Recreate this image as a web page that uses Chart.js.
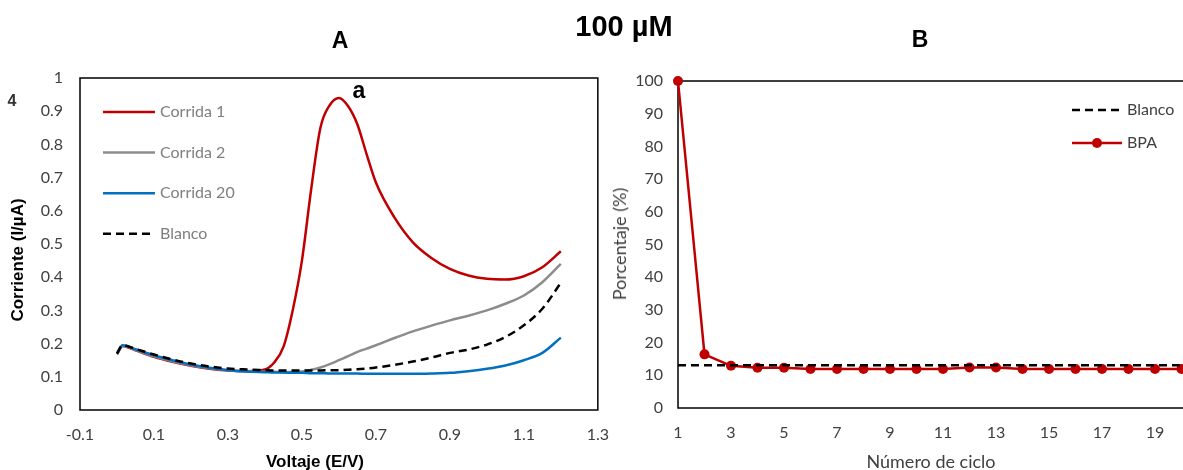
<!DOCTYPE html>
<html>
<head>
<meta charset="utf-8">
<script src="https://cdn.jsdelivr.net/npm/chart.js@4.4.1/dist/chart.umd.min.js"></script>
<style>
  body { margin: 0; width: 1183px; height: 470px; overflow: hidden; background: #fff; position: relative; }
  canvas { position: absolute; top: 0; }
  #chartA { left: 0; }
  #chartB { left: 600px; }
  .txt { position: absolute; white-space: nowrap; transform: translate(-50%, -50%); }
  .arial { font-family: "Liberation Sans", Arial, sans-serif; font-weight: bold; color: #000; }
  .lato { font-family: Lato, sans-serif; font-size: 18px; color: #404040; }
  .rot { transform: translate(-50%, -50%) rotate(-90deg); }
</style>
</head>
<body>
<canvas id="chartA" width="624" height="470"></canvas>
<canvas id="chartB" width="640" height="470"></canvas>

<div class="txt arial" style="left:624px; top:26px; font-size:29px;">100 µM</div>
<div class="txt arial" style="left:340px; top:40px; font-size:23px;">A</div>
<div class="txt arial" style="left:920px; top:39px; font-size:23px;">B</div>
<div class="txt arial" style="left:359px; top:90px; font-size:23px;">a</div>
<div class="txt arial" style="left:12px; top:101px; font-size:16px; color:#333;">4</div>
<div class="txt arial rot" style="left:18px; top:260px; font-size:17px;">Corriente (I/µA)</div>
<div class="txt arial" style="left:315px; top:462px; font-size:17px;">Voltaje (E/V)</div>
<div class="txt lato rot" style="left:619px; top:244px;">Porcentaje (%)</div>
<div class="txt lato" style="left:931px; top:461px;">Número de ciclo</div>

<script>
// ---- panel A : voltammograms ----
const voltaje = [0, 0.015, 0.05, 0.1, 0.15, 0.2, 0.25, 0.3, 0.35, 0.4, 0.425, 0.45, 0.475, 0.5, 0.525, 0.55,
  0.575, 0.6, 0.625, 0.65, 0.675, 0.7, 0.75, 0.8, 0.85, 0.9, 0.95, 1.0, 1.05, 1.1, 1.15, 1.2];
const corrida1 = [0.168, 0.193, 0.180, 0.160, 0.145, 0.133, 0.124, 0.119, 0.117, 0.122, 0.143, 0.190, 0.300, 0.450,
  0.665, 0.850, 0.918, 0.940, 0.915, 0.860, 0.770, 0.685, 0.580, 0.505, 0.458, 0.425, 0.405, 0.395, 0.393, 0.403, 0.430, 0.478];
const corrida2 = [0.168, 0.193, 0.181, 0.162, 0.147, 0.135, 0.126, 0.120, 0.117, 0.115, 0.115, 0.114, 0.115, 0.116,
  0.121, 0.128, 0.138, 0.150, 0.162, 0.175, 0.185, 0.195, 0.217, 0.237, 0.254, 0.270, 0.284, 0.300, 0.320, 0.345, 0.385, 0.440];
const corrida20 = [0.170, 0.195, 0.183, 0.165, 0.150, 0.137, 0.127, 0.120, 0.116, 0.114, 0.113, 0.113, 0.112, 0.112,
  0.111, 0.111, 0.110, 0.110, 0.110, 0.110, 0.109, 0.109, 0.109, 0.109, 0.110, 0.112, 0.117, 0.124, 0.134, 0.150, 0.172, 0.218];
const blancoA = [0.170, 0.195, 0.184, 0.167, 0.152, 0.140, 0.131, 0.125, 0.122, 0.120, 0.119, 0.119, 0.119, 0.119,
  0.119, 0.119, 0.120, 0.120, 0.121, 0.123, 0.125, 0.128, 0.136, 0.146, 0.158, 0.172, 0.182, 0.197, 0.220, 0.255, 0.305, 0.383];

// ---- panel B : percentage per cycle ----
const ciclos = [1, 2, 3, 4, 5, 6, 7, 8, 9, 10, 11, 12, 13, 14, 15, 16, 17, 18, 19, 20];
const bpa = [100, 16.4, 12.9, 12.3, 12.3, 11.9, 11.9, 11.9, 11.9, 11.9, 11.9, 12.4, 12.4, 11.9, 11.9, 11.9, 11.9, 11.9, 11.9, 11.9];
const blancoB = [13.1, 13.1, 13.1, 13.1, 13.1, 13.1, 13.1, 13.1, 13.1, 13.1, 13.1, 13.1, 13.1, 13.1, 13.1, 13.1, 13.1, 13.1, 13.1, 13.1];

Chart.defaults.font.family = 'Lato';
Chart.defaults.font.size = 16;
Chart.defaults.color = '#404040';
Chart.defaults.animation = false;

const pairs = (xs, ys) => xs.map((x, i) => ({ x: x, y: ys[i] }));
const fmt = v => String(Math.round(v * 10) / 10);

// black frame round the plot area
const frame = {
  id: 'frame',
  beforeDatasetsDraw(chart) {
    const a = chart.chartArea, ctx = chart.ctx;
    ctx.save();
    ctx.strokeStyle = '#000';
    ctx.lineWidth = 1.5;
    ctx.strokeRect(a.left, a.top, a.right - a.left, a.bottom - a.top);
    ctx.restore();
  }
};

// legend drawn from the datasets, placed like the original
const sideLegend = {
  id: 'sideLegend',
  afterDraw(chart, args, opts) {
    const ctx = chart.ctx;
    ctx.save();
    ctx.font = '16px Lato';
    ctx.textBaseline = 'middle';
    chart.data.datasets.forEach((ds, i) => {
      const y = opts.y + i * opts.step;
      ctx.strokeStyle = ds.borderColor;
      ctx.lineWidth = ds.borderWidth;
      ctx.setLineDash(ds.borderDash || []);
      ctx.beginPath();
      ctx.moveTo(opts.x, y);
      ctx.lineTo(opts.x + opts.len, y);
      ctx.stroke();
      ctx.setLineDash([]);
      if (ds.pointRadius) {
        ctx.fillStyle = ds.borderColor;
        ctx.beginPath();
        ctx.arc(opts.x + opts.len / 2, y, ds.pointRadius, 0, Math.PI * 2);
        ctx.fill();
      }
      ctx.fillStyle = opts.color;
      ctx.fillText(ds.label, opts.x + opts.len + 5, y);
    });
    ctx.restore();
  }
};

new Chart(document.getElementById('chartA'), {
  type: 'line',
  data: {
    datasets: [
      { label: 'Corrida 1', data: pairs(voltaje, corrida1), borderColor: '#C00000', borderWidth: 2.5, order: 3 },
      { label: 'Corrida 2', data: pairs(voltaje, corrida2), borderColor: '#8C8C8C', borderWidth: 2.5, order: 2 },
      { label: 'Corrida 20', data: pairs(voltaje, corrida20), borderColor: '#0070C0', borderWidth: 2.5, order: 1 },
      { label: 'Blanco', data: pairs(voltaje, blancoA), borderColor: '#000', borderWidth: 2.5, borderDash: [8, 5], order: 0 }
    ]
  },
  options: {
    responsive: false,
    layout: { padding: { left: 0, top: 78, right: 12, bottom: 0 } },
    elements: { point: { radius: 0 }, line: { cubicInterpolationMode: 'monotone' } },
    plugins: {
      legend: { display: false },
      tooltip: { enabled: false },
      sideLegend: { x: 103, y: 112, step: 40.6, len: 52, color: '#7F7F7F' }
    },
    scales: {
      x: {
        type: 'linear', min: -0.1, max: 1.3,
        grid: { display: false, drawTicks: false }, border: { display: false },
        ticks: { stepSize: 0.2, padding: 15, autoSkip: false, maxRotation: 0, callback: fmt },
        afterFit: s => { s.height = 60; }
      },
      y: {
        min: 0, max: 1,
        grid: { display: false, drawTicks: false }, border: { display: false },
        ticks: { stepSize: 0.1, padding: 17, callback: fmt },
        afterFit: s => { s.width = 80; }
      }
    }
  },
  plugins: [frame, sideLegend]
});

new Chart(document.getElementById('chartB'), {
  type: 'line',
  data: {
    datasets: [
      { label: 'Blanco', data: pairs(ciclos, blancoB), borderColor: '#000', borderWidth: 2.5, borderDash: [8, 5], pointRadius: 0, order: 0, clip: false },
      { label: 'BPA', data: pairs(ciclos, bpa), borderColor: '#C00000', backgroundColor: '#C00000', borderWidth: 2.5,
        pointRadius: 5, pointBorderWidth: 0, order: 1, clip: false }
    ]
  },
  options: {
    responsive: false,
    layout: { padding: { left: 0, top: 81, right: 32, bottom: 0 } },
    plugins: {
      legend: { display: false },
      tooltip: { enabled: false },
      sideLegend: { x: 472, y: 110, step: 33, len: 50, color: '#404040' }
    },
    scales: {
      x: {
        type: 'linear', min: 1, max: 21,
        grid: { display: false, drawTicks: false }, border: { display: false },
        ticks: { stepSize: 2, padding: 15, autoSkip: false, maxRotation: 0 },
        afterFit: s => { s.height = 62; }
      },
      y: {
        min: 0, max: 100,
        grid: { display: false, drawTicks: false }, border: { display: false },
        ticks: { stepSize: 10, padding: 15 },
        afterFit: s => { s.width = 78; }
      }
    }
  },
  plugins: [frame, sideLegend]
});
</script>
</body>
</html>
